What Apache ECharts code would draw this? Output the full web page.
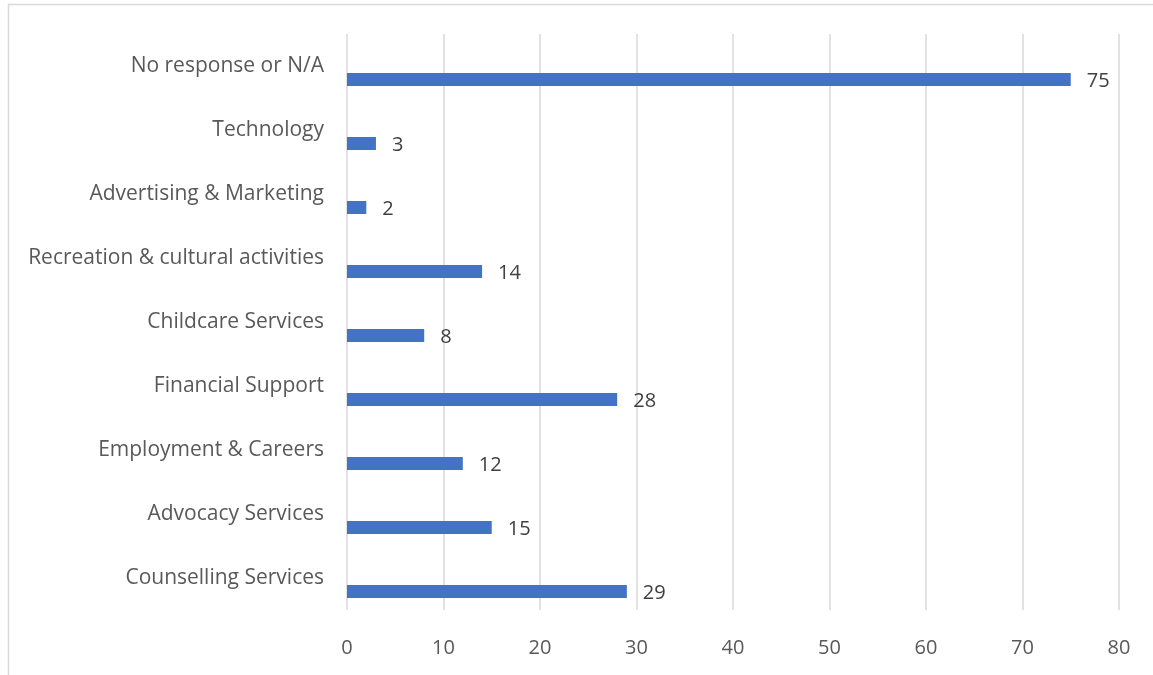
<!DOCTYPE html>
<html><head><meta charset="utf-8">
<script src="https://cdn.jsdelivr.net/npm/echarts@6/dist/echarts.min.js"></script>
<style>html,body{margin:0;padding:0;background:#fff}#c{width:1153px;height:675px}</style>
</head><body><div id="c"></div>
<script>
const categories = ["Counselling Services","Advocacy Services","Employment & Careers","Financial Support","Childcare Services","Recreation & cultural activities","Advertising & Marketing","Technology","No response or N/A"];
const values = [29,15,12,28,8,14,2,3,75];
const xTicks = {min:0, max:80, interval:10};
const font = "Open Sans";
const chart = echarts.init(document.getElementById('c'));
chart.setOption({
  animation:false,
  graphic:[{type:'rect',shape:{x:8.5,y:4.5,width:1200,height:700},style:{fill:null,stroke:'#d9d9d9',lineWidth:1.5},silent:true}],
  grid:{left:347,right:34,top:34,bottom:65,containLabel:false},
  xAxis:{type:'value',min:xTicks.min,max:xTicks.max,interval:xTicks.interval,
    axisLine:{show:false},axisTick:{show:false},
    splitLine:{lineStyle:{color:'#d9d9d9',width:1.5}},
    axisLabel:{color:'#595959',fontSize:20,fontFamily:font,margin:28}},
  yAxis:{type:'category',data:categories,
    axisLine:{show:false},axisTick:{show:false},
    axisLabel:{color:'#595959',fontSize:21,fontFamily:font,margin:23,padding:[4,0,0,0]}},
  series:[
    {type:'bar',data:categories.map(()=>null),barWidth:13,barGap:'108%'},
    {type:'bar',data:values,barWidth:13,barGap:'108%',itemStyle:{color:'#4472C4'},
     label:{show:true,position:'right',distance:16,color:'#404040',fontSize:20,fontFamily:font,offset:[0,2]}}
  ]
});
</script></body></html>
